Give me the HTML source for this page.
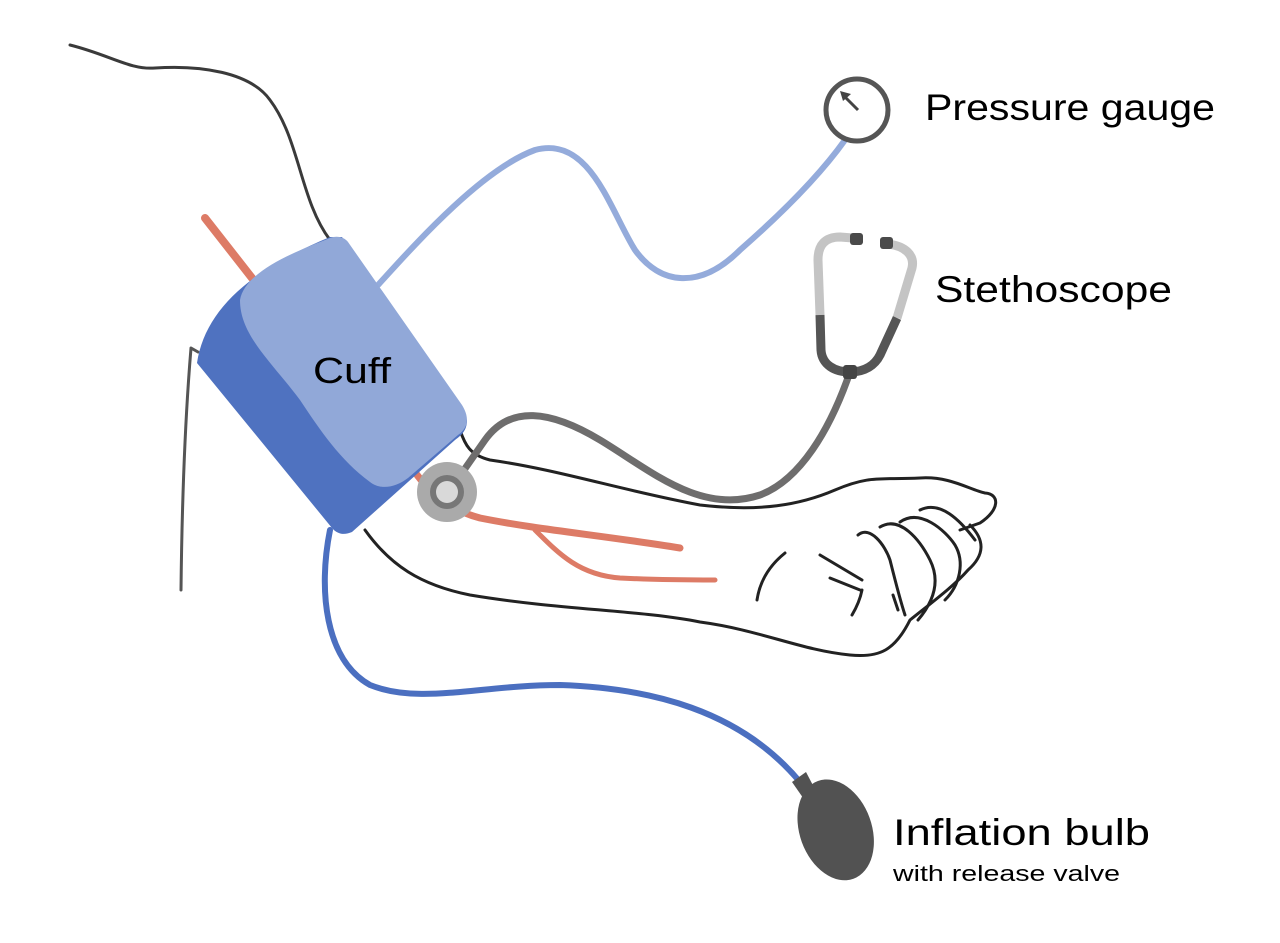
<!DOCTYPE html>
<html><head><style>
html,body{margin:0;padding:0;background:#fff;width:1280px;height:943px;overflow:hidden}
svg{display:block}
text{font-family:"Liberation Sans","DejaVu Sans",sans-serif;fill:#000}
</style></head><body>
<svg width="1280" height="943" viewBox="0 0 1280 943" xmlns="http://www.w3.org/2000/svg">
<g fill="none" stroke-linecap="round" stroke-linejoin="round">
<path d="M70,45 C110,55 130,70 155,68 C200,65 250,72 270,100 C300,140 300,200 330,240" stroke="#3a3a3a" stroke-width="3"/>
<path d="M181,590 C182,500 185,420 191,348 L198,352" stroke="#555" stroke-width="3"/>
<path d="M205,218 L252,278" stroke="#dd7b66" stroke-width="8"/>
<path d="M410,465 C430,495 450,510 480,518 C540,530 600,535 680,548" stroke="#dd7b66" stroke-width="7"/>
<path d="M535,530 C560,555 580,575 620,578 C660,580 690,580 715,580" stroke="#dd7b66" stroke-width="5"/>
<path d="M460,430 C465,445 470,455 490,460 C560,470 620,490 700,505 C760,512 800,505 835,490 C870,475 880,480 920,478 C950,476 970,490 985,493 C1000,494 1000,510 980,523 L960,530" stroke="#222" stroke-width="3"/>
<path d="M365,530 C390,565 420,585 470,595 C560,610 640,610 700,622 C760,630 800,650 850,655 C880,658 895,650 910,620 C935,600 955,585 968,570 C985,555 985,540 970,525" stroke="#222" stroke-width="3"/>
<path d="M858,535 C870,525 885,545 890,560 C895,580 900,600 905,615" stroke="#222" stroke-width="3"/>
<path d="M880,527 C900,515 920,540 930,560 C940,580 935,600 918,620" stroke="#222" stroke-width="3"/>
<path d="M900,522 C920,508 945,530 955,545 C965,562 960,585 945,600" stroke="#222" stroke-width="3"/>
<path d="M920,510 C940,500 960,520 975,540" stroke="#222" stroke-width="3"/>
<path d="M820,555 L862,580 M830,578 L860,590 M862,590 C860,600 855,610 852,615 M785,553 C770,565 760,580 757,600" stroke="#222" stroke-width="3"/>
<path d="M893,595 L898,610" stroke="#222" stroke-width="3"/>
<path d="M378,285 C410,250 480,170 535,150 C590,135 610,210 635,250 C660,285 700,290 740,250 C780,215 820,175 845,140" stroke="#94abdb" stroke-width="6"/>
<path d="M330,530 C318,590 325,660 370,685 C420,705 480,685 560,685 C650,688 740,710 800,782" stroke="#4b6fc0" stroke-width="6"/>
</g>
<path d="M197,363 C205,310 250,270 330,237 L342,237 L467,420 C467,430 462,435 455,440 L352,532 C345,535 338,535 332,528 Z" fill="#4f72c0"/>
<path d="M240,300 C245,270 300,250 330,238 C338,235 345,238 348,242 L462,405 C470,418 468,428 458,435 L408,478 C395,488 380,490 370,482 C340,460 320,430 300,400 C270,360 240,335 240,300 Z" fill="#91a8d8"/>
<text x="313" y="383" font-size="36" textLength="78" lengthAdjust="spacingAndGlyphs">Cuff</text>
<path d="M850,372 C830,430 800,480 760,495 C700,515 650,470 600,440 C550,410 510,405 485,440 L450,490" fill="none" stroke="#6e6d6d" stroke-width="7" stroke-linecap="round"/>
<circle cx="447" cy="492" r="30" fill="#aaaaaa"/>
<circle cx="447" cy="492" r="17" fill="#777"/>
<circle cx="447" cy="492" r="11" fill="#d9d9d9"/>
<g fill="none" stroke-width="9">
<path d="M820,315 L818,260 C818,245 825,237 840,237 L853,238" stroke="#c4c4c4"/>
<path d="M888,244 C905,246 915,255 912,268 L897,318" stroke="#c4c4c4"/>
<path d="M820,315 L821,350 C822,365 835,372 850,372 C865,372 875,365 880,355 L897,318" stroke="#555"/>
</g>
<rect x="850" y="233" width="13" height="12" rx="3" fill="#4a4a4a"/>
<rect x="880" y="237" width="13" height="12" rx="3" fill="#4a4a4a"/>
<rect x="843" y="365" width="14" height="14" rx="3" fill="#444"/>
<circle cx="857" cy="110" r="31" fill="#fff" stroke="#555" stroke-width="5"/>
<path d="M858,110 L845,97" stroke="#444" stroke-width="3"/>
<path d="M840,91 L851,94 L843,101 Z" fill="#444"/>
<g transform="rotate(-20 835 828)"><ellipse cx="835" cy="830" rx="36" ry="52" fill="#525252"/></g>
<path d="M792,782 L806,772 L818,795 L808,805 Z" fill="#525252"/>
<text x="925" y="120" font-size="37" textLength="290" lengthAdjust="spacingAndGlyphs">Pressure gauge</text>
<text x="935" y="302" font-size="37" textLength="237" lengthAdjust="spacingAndGlyphs">Stethoscope</text>
<text x="893" y="845" font-size="37" textLength="257" lengthAdjust="spacingAndGlyphs">Inflation bulb</text>
<text x="893" y="881" font-size="22" textLength="227" lengthAdjust="spacingAndGlyphs">with release valve</text>
</svg>
</body></html>
